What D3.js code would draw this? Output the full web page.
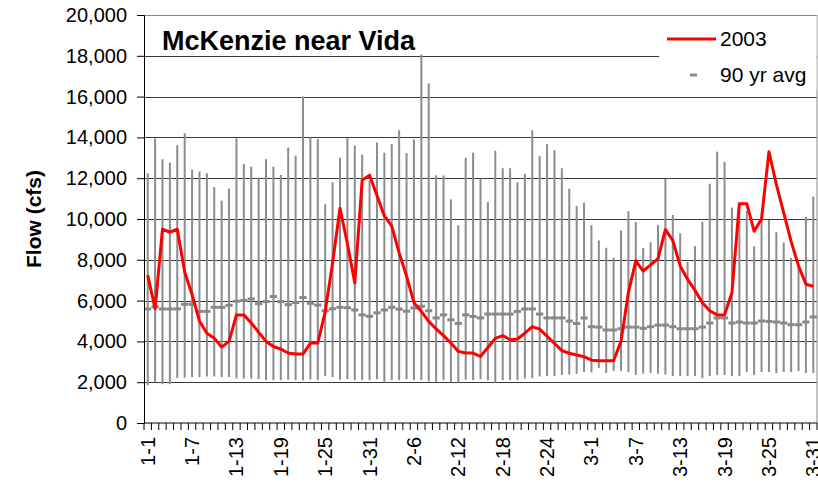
<!DOCTYPE html>
<html>
<head>
<meta charset="utf-8">
<script src="https://cdn.jsdelivr.net/npm/d3@7"></script>
<style>
  body { margin: 0; background: #fff; }
  text { font-family: "Liberation Sans", Arial, sans-serif; }
</style>
</head>
<body>
<svg width="818" height="486"></svg>
<script>
var svg = d3.select("svg"),
    width = +svg.attr("width"),
    height = +svg.attr("height");

// months and their lengths, Jan 1 .. Mar 31 (incl. Feb 29)
var months = [1, 2, 3];
var monthDays = [31, 29, 31];

// daily record high (cfs)
var hiFlow = [12240,13950,12930,12770,13620,14210,12420,12330,12240,11570,10900,11490,13950,12690,12570,
              12030,12930,12570,12160,13500,13100,16010,14000,13920,10720,11800,13000,13990,13600,13160,
              11900,13750,13250,13670,14350,13230,13900,18060,16640,12140,12140,10960,9690,13000,13250,
              11980,10830,13340,12490,12490,11800,12220,14350,13080,13670,13370,12490,11490,10640,10800,
              9700,8950,8590,8100,9440,10380,9850,8580,8860,9700,11960,10200,9300,7900,8670,
              9870,11730,13300,12800,10560,10300,10400,8660,10100,9950,9350,8850,8090,7700,10110,
              11100];

// daily record low (cfs)
var loFlow = [1850,1980,1900,1900,2200,2220,2250,2250,2280,2280,2250,2250,2180,2180,2170,
              2150,2100,2100,2100,2120,2100,2100,2130,2100,2300,2250,2120,2150,2100,2100,
              2100,2150,1980,2100,2100,2150,2100,2100,2050,2000,2100,1980,1980,2120,2100,
              2150,2100,1980,2100,2100,2100,2180,2200,2280,2300,2300,2350,2380,2420,2500,
              2480,2700,2450,2550,2550,2500,2350,2420,2450,2420,2380,2300,2300,2300,2300,
              2200,2300,2350,2350,2300,2300,2500,2350,2500,2500,2450,2500,2500,2550,2450,
              2450];

// 90 yr average (cfs)
var avgFlow = [5590,5700,5590,5590,5590,5820,5820,5470,5470,5670,5670,5770,5970,6010,6080,
               5850,5950,6200,5950,5800,5900,6150,5870,5780,5500,5600,5670,5650,5540,5300,
               5230,5400,5540,5670,5580,5480,5640,5720,5500,5150,5300,5060,4880,5300,5220,
               5150,5340,5340,5340,5340,5470,5590,5590,5340,5150,5150,5150,5000,4880,5150,
               4720,4700,4560,4560,4620,4700,4700,4640,4720,4800,4800,4720,4620,4620,4620,
               4700,4900,5150,5150,4900,4950,4900,4900,5000,4980,4950,4900,4820,4820,4950,
               5200];

// 2003 daily flow (cfs)
var flow2003 = [7250,5600,9500,9350,9500,7400,6300,5000,4400,4150,3720,4000,5300,5300,4900,
                4450,4000,3750,3620,3430,3380,3380,3920,3920,5450,7850,10530,8800,6870,11900,
                12150,11150,10150,9650,8340,7200,5900,5470,4980,4610,4280,3920,3510,3430,3430,
                3260,3700,4150,4280,4080,4120,4400,4720,4600,4250,3900,3550,3420,3330,3250,
                3080,3050,3050,3050,4000,6400,7950,7450,7750,8050,9480,8950,7700,7050,6500,
                5900,5500,5300,5300,6400,10750,10750,9400,10000,13300,11700,10300,8900,7700,6800,
                6700];

var yTicks = [0,2000,4000,6000,8000,10000,12000,14000,16000,18000,20000];

var days = [];
months.forEach(function(m, mi) {
  for (var d = 1; d <= monthDays[mi]; d++) days.push(m + "-" + d);
});

var rows = days.map(function(d, i) {
  return {day: d, hi: hiFlow[i], lo: loFlow[i], avg: avgFlow[i], v: flow2003[i]};
});

var pLeft = 144, pRight = 817, pTop = 15, pBottom = 423;

var x = d3.scaleBand().domain(days).range([pLeft, pRight]).padding(0);
var y = d3.scaleLinear().domain([0, 20000]).range([pBottom, pTop]);
var cx = function(d) { return x(d) + x.bandwidth() / 2; };

// gridlines
svg.append("g")
  .selectAll("line")
  .data(yTicks.filter(function(t) { return t > 0; }))
  .enter().append("line")
  .attr("x1", pLeft).attr("x2", pRight)
  .attr("y1", function(t) { return Math.round(y(t)) + 0.5; })
  .attr("y2", function(t) { return Math.round(y(t)) + 0.5; })
  .attr("stroke", function(t) { return t == 20000 ? "#8a8a8a" : "#3a3a3a"; })
  .attr("stroke-width", 1);

// right border
svg.append("line")
  .attr("x1", pRight).attr("x2", pRight).attr("y1", pTop).attr("y2", pBottom)
  .attr("stroke", "#8a8a8a");

// high-low bars
svg.append("g")
  .selectAll("line")
  .data(rows)
  .enter().append("line")
  .attr("x1", function(d) { return cx(d.day); })
  .attr("x2", function(d) { return cx(d.day); })
  .attr("y1", function(d) { return y(d.hi); })
  .attr("y2", function(d) { return y(d.lo); })
  .attr("stroke", "#8c8c8c")
  .attr("stroke-width", 2);

// average ticks
svg.append("g")
  .selectAll("line")
  .data(rows)
  .enter().append("line")
  .attr("x1", function(d) { return cx(d.day) - 3.6; })
  .attr("x2", function(d) { return cx(d.day) + 3.6; })
  .attr("y1", function(d) { return y(d.avg); })
  .attr("y2", function(d) { return y(d.avg); })
  .attr("stroke", "#888")
  .attr("stroke-width", 3);

// 2003 line
var line = d3.line()
  .x(function(d) { return cx(d.day); })
  .y(function(d) { return y(d.v); });

svg.append("path")
  .datum(rows)
  .attr("d", line)
  .attr("fill", "none")
  .attr("stroke", "#ff0000")
  .attr("stroke-width", 3)
  .attr("stroke-linejoin", "round");

// y axis
var yAxis = svg.append("g")
  .attr("transform", "translate(" + pLeft + ",0)")
  .call(d3.axisLeft(y).tickValues(yTicks).tickFormat(d3.format(",")).tickSize(7).tickPadding(10));
yAxis.select(".domain").attr("stroke", "#000");
yAxis.selectAll(".tick line").attr("stroke", "#000");
yAxis.selectAll("text").attr("font-size", 20).attr("fill", "#000")
  .style("font-family", "'Liberation Sans', Arial, sans-serif");

// x axis: ticks between categories, labels every 6th day
var xg = svg.append("g");
xg.append("line")
  .attr("x1", pLeft).attr("x2", pRight).attr("y1", pBottom).attr("y2", pBottom)
  .attr("stroke", "#000");
xg.selectAll(".xt")
  .data(days.concat(["end"]))
  .enter().append("line")
  .attr("class", "xt")
  .attr("x1", function(d, i) { return i < days.length ? x(d) : pRight; })
  .attr("x2", function(d, i) { return i < days.length ? x(d) : pRight; })
  .attr("y1", pBottom).attr("y2", pBottom + 7)
  .attr("stroke", "#000");
xg.selectAll(".xl")
  .data(days.filter(function(d, i) { return i % 6 == 0; }))
  .enter().append("text")
  .attr("class", "xl")
  .attr("transform", function(d) { return "translate(" + cx(d) + "," + (pBottom + 14) + ") rotate(-90)"; })
  .attr("text-anchor", "end")
  .attr("dy", "0.35em")
  .attr("font-size", 20)
  .attr("fill", "#000")
  .text(function(d) { return d; });

// y title
svg.append("text")
  .attr("transform", "translate(41,219) rotate(-90)")
  .attr("text-anchor", "middle")
  .attr("font-size", 21)
  .attr("font-weight", "bold")
  .text("Flow (cfs)");

// chart title
svg.append("text")
  .attr("x", 162).attr("y", 50)
  .attr("font-size", 27)
  .attr("font-weight", "bold")
  .text("McKenzie near Vida");

// legend
var lg = svg.append("g");
lg.append("rect")
  .attr("x", 659).attr("y", pTop + 1).attr("width", pRight - 659 - 0.5).attr("height", 74)
  .attr("fill", "#fff");
lg.append("line")
  .attr("x1", 667).attr("x2", 716).attr("y1", 39).attr("y2", 39)
  .attr("stroke", "#ff0000").attr("stroke-width", 3);
lg.append("text").attr("x", 720).attr("y", 46).attr("font-size", 21).text("2003");
lg.append("line")
  .attr("x1", 690).attr("x2", 697).attr("y1", 75).attr("y2", 75)
  .attr("stroke", "#8c8c8c").attr("stroke-width", 3);
lg.append("text").attr("x", 720).attr("y", 82).attr("font-size", 21).text("90 yr avg");
</script>
</body>
</html>
